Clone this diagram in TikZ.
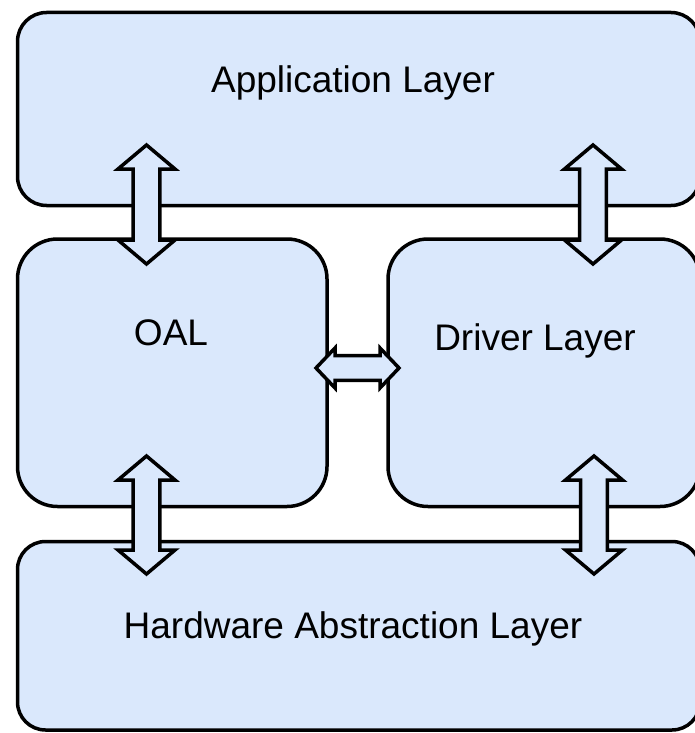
\documentclass[tikz,border=0pt]{standalone}
\usepackage{fontspec}
\setmainfont{Liberation Sans}
\usetikzlibrary{calc}
\definecolor{layerfill}{HTML}{DAE8FC}
\tikzset{
  layer/.style={draw=black, fill=layerfill, line width=3.5pt, rounded corners=#1,
    inner sep=0pt, outer sep=0pt},
  layertext/.style={font=\fontsize{37}{44}\selectfont, anchor=base, inner sep=0pt},
  % double-headed block arrow: #1 head length, #2 half head width, #3 half shaft width
  flex/.style n args={3}{draw=black, fill=layerfill, line width=3.5pt,
    line join=miter, miter limit=10,
    to path={
      ($(\tikztostart)!#1!(\tikztotarget)$) coordinate (fh1)
      ($(\tikztotarget)!#1!(\tikztostart)$) coordinate (fh2)
      (\tikztostart)
      -- ($(fh1)!#2!-90:(\tikztotarget)$) -- ($(fh1)!#3!-90:(\tikztotarget)$)
      -- ($(fh2)!#3!90:(\tikztostart)$) -- ($(fh2)!#2!90:(\tikztostart)$)
      -- (\tikztotarget)
      -- ($(fh2)!#2!-90:(\tikztostart)$) -- ($(fh2)!#3!-90:(\tikztostart)$)
      -- ($(fh1)!#3!90:(\tikztotarget)$) -- ($(fh1)!#2!90:(\tikztotarget)$)
      -- cycle}},
}
\begin{document}
\begin{tikzpicture}[x=1pt, y=-1pt]
  \clip (0,0) rectangle (695,733);

  % layers
  \node[layer=29pt, minimum width=682.5pt, minimum height=193pt] (app) at (358.75,109) {};
  \node[layer=40pt, minimum width=309.5pt, minimum height=267.5pt] (oal) at (172.25,372.75) {};
  \node[layer=40pt, minimum width=312pt, minimum height=267.5pt] (drv) at (544,372.75) {};
  \node[layer=28pt, minimum width=682.5pt, minimum height=188.5pt] (hal) at (358.75,635.75) {};

  % labels
  \node[layertext] (apptext) at (353,93) {Application Layer};
  \node[layertext] (oaltext) at (171,345) {OAL};
  \node[layertext] (drvtext) at (535,350) {Driver Layer};
  \node[layertext] (haltext) at (353,638) {Hardware Abstraction Layer};

  % arrow end points
  \coordinate (appL) at (146.5,145);
  \coordinate (oalT) at (146.5,264);
  \coordinate (appR) at (593,145);
  \coordinate (drvT) at (593,264);
  \coordinate (oalB) at (146.5,456);
  \coordinate (halL) at (146.5,574);
  \coordinate (drvB) at (594,456);
  \coordinate (halR) at (594,574);
  \coordinate (oalE) at (316,368);
  \coordinate (drvW) at (399,368);

  % connectors
  \draw[flex={24pt}{28.5pt}{13.3pt}] (appL) to (oalT);
  \draw[flex={24pt}{28.5pt}{13.3pt}] (appR) to (drvT);
  \draw[flex={24pt}{28.5pt}{13.3pt}] (oalB) to (halL);
  \draw[flex={24pt}{28.5pt}{13.3pt}] (drvB) to (halR);
  \draw[flex={19pt}{20pt}{12.3pt}] (oalE) to (drvW);
\end{tikzpicture}
\end{document}
